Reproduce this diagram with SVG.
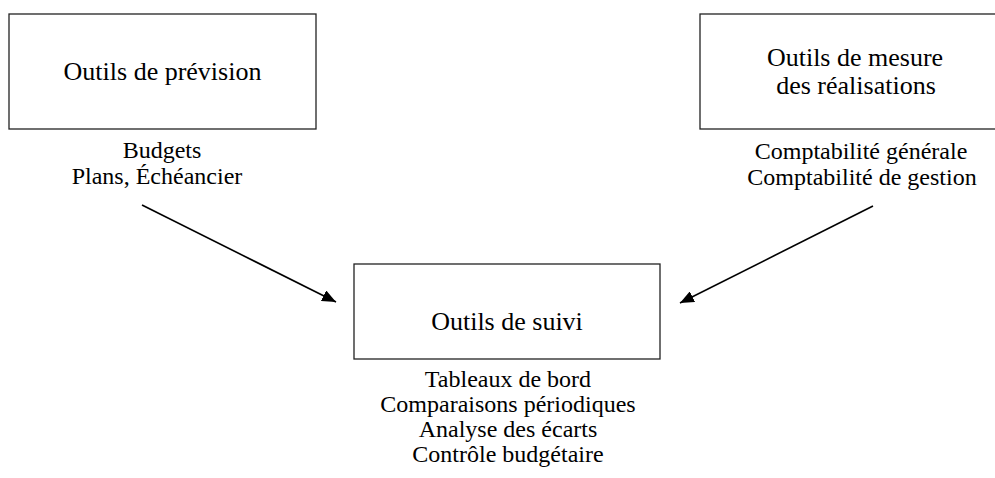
<svg xmlns="http://www.w3.org/2000/svg" width="995" height="478" viewBox="0 0 995 478">
<style>
.box{fill:#fff;stroke:#222;stroke-width:1.3}
.t{font-family:"Liberation Serif","Times New Roman",serif;font-size:26px;fill:#000;text-anchor:middle}
.s{font-family:"Liberation Serif","Times New Roman",serif;font-size:24px;fill:#000;text-anchor:middle}
.c{stroke:#000;stroke-width:1.6;fill:none}
</style>
<defs>
<marker id="ah" viewBox="0 0 10 10" refX="10" refY="5" markerWidth="10" markerHeight="10" markerUnits="userSpaceOnUse" orient="auto">
<path d="M0,0 L10,5 L0,10 z" fill="#000"/>
</marker>
<marker id="ah2" viewBox="0 0 14 12" refX="14" refY="6" markerWidth="14" markerHeight="12" markerUnits="userSpaceOnUse" orient="auto">
<path d="M0,0 L14,6 L0,12 z" fill="#000"/>
</marker>
</defs>
<rect width="995" height="478" fill="#fff"/>
<g id="prevision">
<rect class="box" x="9" y="14" width="307" height="115"/>
<text class="t" x="162.5" y="80">Outils de prévision</text>
<text class="s" x="162" y="158">Budgets</text>
<text class="s" x="157" y="184">Plans, Échéancier</text>
</g>
<g id="mesure">
<rect class="box" x="700" y="14" width="310" height="115"/>
<text class="t" x="855" y="66">Outils de mesure</text>
<text class="t" x="856" y="94">des réalisations</text>
<text class="s" x="861" y="159">Comptabilité générale</text>
<text class="s" x="862" y="185">Comptabilité de gestion</text>
</g>
<g id="suivi">
<rect class="box" x="354" y="264" width="306" height="95"/>
<text class="t" x="507" y="330">Outils de suivi</text>
<text class="s" x="508" y="387">Tableaux de bord</text>
<text class="s" x="508" y="412">Comparaisons périodiques</text>
<text class="s" x="508" y="437">Analyse des écarts</text>
<text class="s" x="508" y="462">Contrôle budgétaire</text>
</g>
<g id="connectors">
<line class="c" x1="142" y1="205" x2="336" y2="302" marker-end="url(#ah2)"/>
<line class="c" x1="873" y1="206" x2="680" y2="303" marker-end="url(#ah2)"/>
</g>
</svg>
